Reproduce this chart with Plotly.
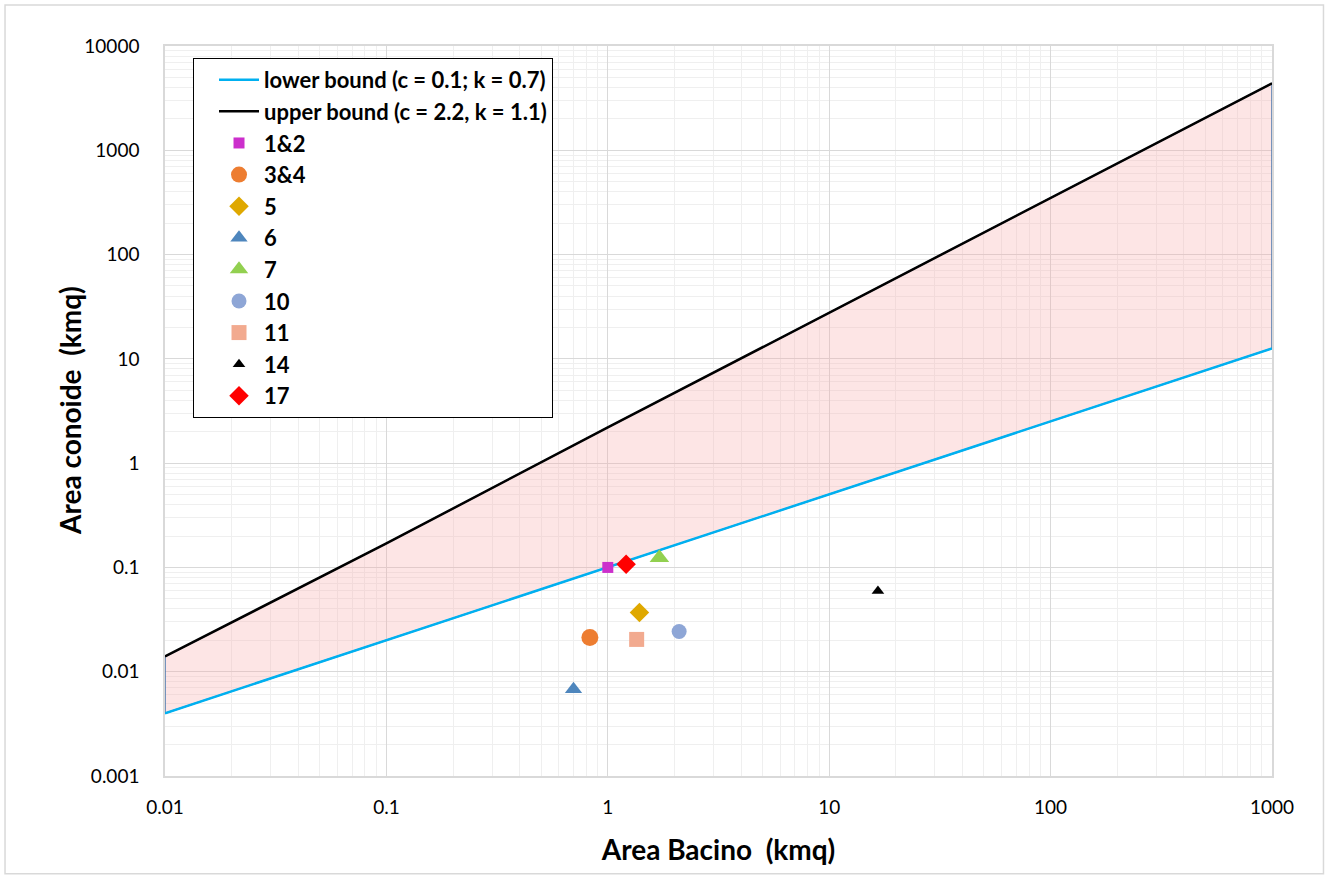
import plotly.graph_objects as go

# ---- data ----
bound_x = [0.01, 0.1, 1, 10, 100, 1000]
lower_y = [0.004, 0.02, 0.1, 0.5, 2.5, 12.6]
upper_y = [0.014, 0.17, 2.2, 27.7, 350, 4390]

point_names = ["1&2", "3&4", "5", "6", "7", "10", "11", "14", "17"]
point_x = [1.0, 0.83, 1.39, 0.70, 1.71, 2.10, 1.35, 16.6, 1.21]
point_y = [0.1, 0.0213, 0.037, 0.0068, 0.124, 0.0243, 0.0204, 0.0593, 0.107]
point_symbols = ["square", "circle", "diamond", "triangle-up", "triangle-up",
                 "circle", "square", "triangle-up", "diamond"]
point_colors = ["#CC2FCC", "#ED7D31", "#DFA800", "#4E86BD", "#92D050",
                "#8EA6D6", "#F2AA8F", "#000000", "#FF0000"]
point_sizes = [11, 17, 15, 15, 17, 15, 15, 11, 15]

x_ticks = [0.01, 0.1, 1, 10, 100, 1000]
x_ticktext = ["0.01", "0.1", "1", "10", "100", "1000"]
y_ticks = [0.001, 0.01, 0.1, 1, 10, 100, 1000, 10000]
y_ticktext = ["0.001", "0.01", "0.1", "1", "10", "100", "1000", "10000"]

FONT = "Lato, 'Liberation Sans', Arial, sans-serif"

fig = go.Figure()

# shaded area between bounds (polygon)
poly_x = bound_x + bound_x[::-1] + [bound_x[0]]
poly_y = lower_y + upper_y[::-1] + [lower_y[0]]
fig.add_trace(go.Scatter(
    x=poly_x, y=poly_y, mode="lines", fill="toself",
    fillcolor="rgba(248,170,170,0.30)",
    line=dict(color="#4A78AE", width=1.5),
    showlegend=False, hoverinfo="skip"))

fig.add_trace(go.Scatter(
    x=bound_x, y=lower_y, mode="lines",
    name="lower bound (c = 0.1; k = 0.7)",
    line=dict(color="#00B0F0", width=2.5), legendgroup="a"))
fig.add_trace(go.Scatter(
    x=bound_x, y=upper_y, mode="lines",
    name="upper bound (c = 2.2, k = 1.1)",
    line=dict(color="#000000", width=2.5), legendgroup="b"))

for i, n in enumerate(point_names):
    fig.add_trace(go.Scatter(
        x=[point_x[i]], y=[point_y[i]], mode="markers", name=n,
        legendgroup="p%d" % i,
        marker=dict(symbol=point_symbols[i], color=point_colors[i],
                    size=point_sizes[i], line=dict(width=0))))

axis_common = dict(
    type="log", showline=True, linecolor="#D9D9D9", linewidth=1.5, mirror=True,
    layer="below traces",
    showgrid=True, gridcolor="#D9D9D9", gridwidth=1,
    minor=dict(dtick="D1", showgrid=True, gridcolor="#EFEFEF", gridwidth=1),
    zeroline=False, ticks="", tickfont=dict(family=FONT, size=19, color="#000"),
)

fig.update_xaxes(
    **axis_common, range=[-2, 3], tickvals=x_ticks, ticktext=x_ticktext,
    ticklabelstandoff=13,
    title=dict(text="<b>Area Bacino  (kmq)</b>",
               font=dict(family=FONT, size=28, color="#000"), standoff=24))
fig.update_yaxes(
    **axis_common, range=[-3, 4], tickvals=y_ticks, ticktext=y_ticktext,
    ticklabelstandoff=20)

fig.update_layout(
    width=1328, height=879,
    margin=dict(l=165, r=56, t=46, b=103),
    paper_bgcolor="white", plot_bgcolor="white",
    showlegend=True,
    legend=dict(x=0.0253, y=0.9836, xanchor="left", yanchor="top",
                bgcolor="white", bordercolor="#000000", borderwidth=1,
                font=dict(family=FONT, size=22, color="#000", weight="bold"),
                tracegroupgap=0, itemwidth=40, indentation=20),
    annotations=[dict(text="<b>Area conoide  (kmq)</b>", textangle=-90,
                      xref="paper", yref="paper", x=-0.0858, y=0.5,
                      xanchor="center", yanchor="middle", showarrow=False,
                      font=dict(family=FONT, size=28, color="#000"))],
    shapes=[dict(type="rect", xref="paper", yref="paper", layer="above",
                 x0=-0.1445, x1=1.0465, y0=-0.134, y1=1.056,
                 line=dict(color="#D9D9D9", width=1.5))],
)

fig.write_html("out.html", config={"displayModeBar": False},
               post_script="document.body.style.margin='0';")
